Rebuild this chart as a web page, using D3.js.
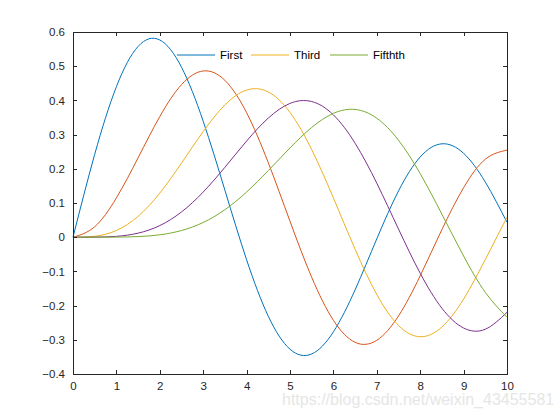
<!DOCTYPE html>
<html><head><meta charset="utf-8">
<script src="https://cdn.jsdelivr.net/npm/d3@7"></script>
<style>body{margin:0;background:#fff}svg{display:block}</style>
</head><body><svg id="c" width="560" height="420"></svg>
<script>
const xs = [0,0.5,1,1.5,2,2.5,3,3.5,4,4.5,5,5.5,6,6.5,7,7.5,8,8.5,9,9.5,10];
const s1 = [0,0.2423,0.4401,0.5579,0.5767,0.4971,0.3391,0.1374,-0.0660,-0.2311,-0.3276,-0.3414,-0.2767,-0.1538,-0.0047,0.1352,0.2346,0.2731,0.2453,0.1613,0.0435];
const s2 = [0,0.0306,0.1149,0.2321,0.3528,0.4461,0.4861,0.4586,0.3641,0.2178,0.0466,-0.1173,-0.2429,-0.3074,-0.3014,-0.2303,-0.1130,0.0223,0.1448,0.2279,0.2546];
const s3 = [0,0.0026,0.0196,0.0610,0.1289,0.2166,0.3091,0.3868,0.4302,0.4247,0.3648,0.2561,0.1148,-0.0353,-0.1676,-0.2581,-0.2911,-0.2626,-0.1809,-0.0653,0.0584];
const s4 = [0,0.0002,0.0025,0.0118,0.0340,0.0738,0.1320,0.2044,0.2811,0.3484,0.3912,0.3967,0.3576,0.2748,0.1578,0.0238,-0.1054,-0.2077,-0.2655,-0.2691,-0.2196];
const s5 = [0,0.0000,0.0003,0.0018,0.0070,0.0195,0.0430,0.0804,0.1321,0.1947,0.2611,0.3209,0.3621,0.3736,0.3479,0.2835,0.1858,0.0672,-0.0550,-0.1613,-0.2340];
const seriesList = [s1,s2,s3,s4,s5];
const colors = ["#0072BD","#D95319","#EDB120","#7E2F8E","#77AC30"];
const legendLabels = ["First","Third","Fifthth"];
const legendIdx = [0,2,4];
const xTicks = [0,1,2,3,4,5,6,7,8,9,10];
const yTicks = [-0.4,-0.3,-0.2,-0.1,0,0.1,0.2,0.3,0.4,0.5,0.6];

const L=73,R=507,T=32,B=374;
const svg=d3.select("#c");
const x=d3.scaleLinear().domain([0,10]).range([L,R]);
const y=d3.scaleLinear().domain([-0.4,0.6]).range([B,T]);
const font="'Liberation Sans', Arial, sans-serif";
const ink="#262626";

const line=d3.line().x((d,i)=>x(xs[i])).y(d=>y(d)).curve(d3.curveNatural);
seriesList.forEach((s,k)=>{
  svg.append("path").attr("d",line(s)).attr("fill","none").attr("stroke",colors[k]).attr("stroke-width",1);
});

// box
svg.append("rect").attr("x",L).attr("y",T).attr("width",R-L).attr("height",B-T).attr("fill","none").attr("stroke",ink).attr("stroke-width",1).attr("shape-rendering","crispEdges");

const xa=svg.append("g").attr("transform",`translate(0,${B})`).call(d3.axisBottom(x).tickValues(xTicks).tickSizeInner(-4).tickSizeOuter(0).tickPadding(8).tickFormat(d3.format("d")));
const ya=svg.append("g").attr("transform",`translate(${L},0)`).call(d3.axisLeft(y).tickValues(yTicks).tickSizeInner(-4).tickSizeOuter(0).tickPadding(8).tickFormat(d=>Math.abs(d)<1e-9?"0":d3.format(".1f")(d)));
// top/right ticks
svg.append("g").attr("transform",`translate(0,${T})`).call(d3.axisTop(x).tickValues(xTicks).tickSizeInner(-4).tickSizeOuter(0).tickFormat(""));
svg.append("g").attr("transform",`translate(${R},0)`).call(d3.axisRight(y).tickValues(yTicks).tickSizeInner(-4).tickSizeOuter(0).tickFormat(""));
svg.selectAll(".domain").remove();
svg.selectAll(".tick line").attr("stroke",ink).attr("shape-rendering","crispEdges");
svg.selectAll(".tick text").attr("fill",ink).style("font-family",font).style("font-size","11.5px");

// legend
const lx=[177,251,330];
legendIdx.forEach((k,i)=>{
  svg.append("line").attr("x1",lx[i]).attr("x2",lx[i]+38).attr("y1",55).attr("y2",55).attr("stroke",colors[k]).attr("stroke-width",1);
  svg.append("text").attr("x",lx[i]+43).attr("y",59).text(legendLabels[i]).attr("fill","#000").style("font-family",font).style("font-size","11.5px");
});

svg.append("text").attr("x",282).attr("y",405).text("https://blog.csdn.net/weixin_43455581").attr("fill","#e6e6e6").style("font-family",font).style("font-size","16px");
</script></body></html>
